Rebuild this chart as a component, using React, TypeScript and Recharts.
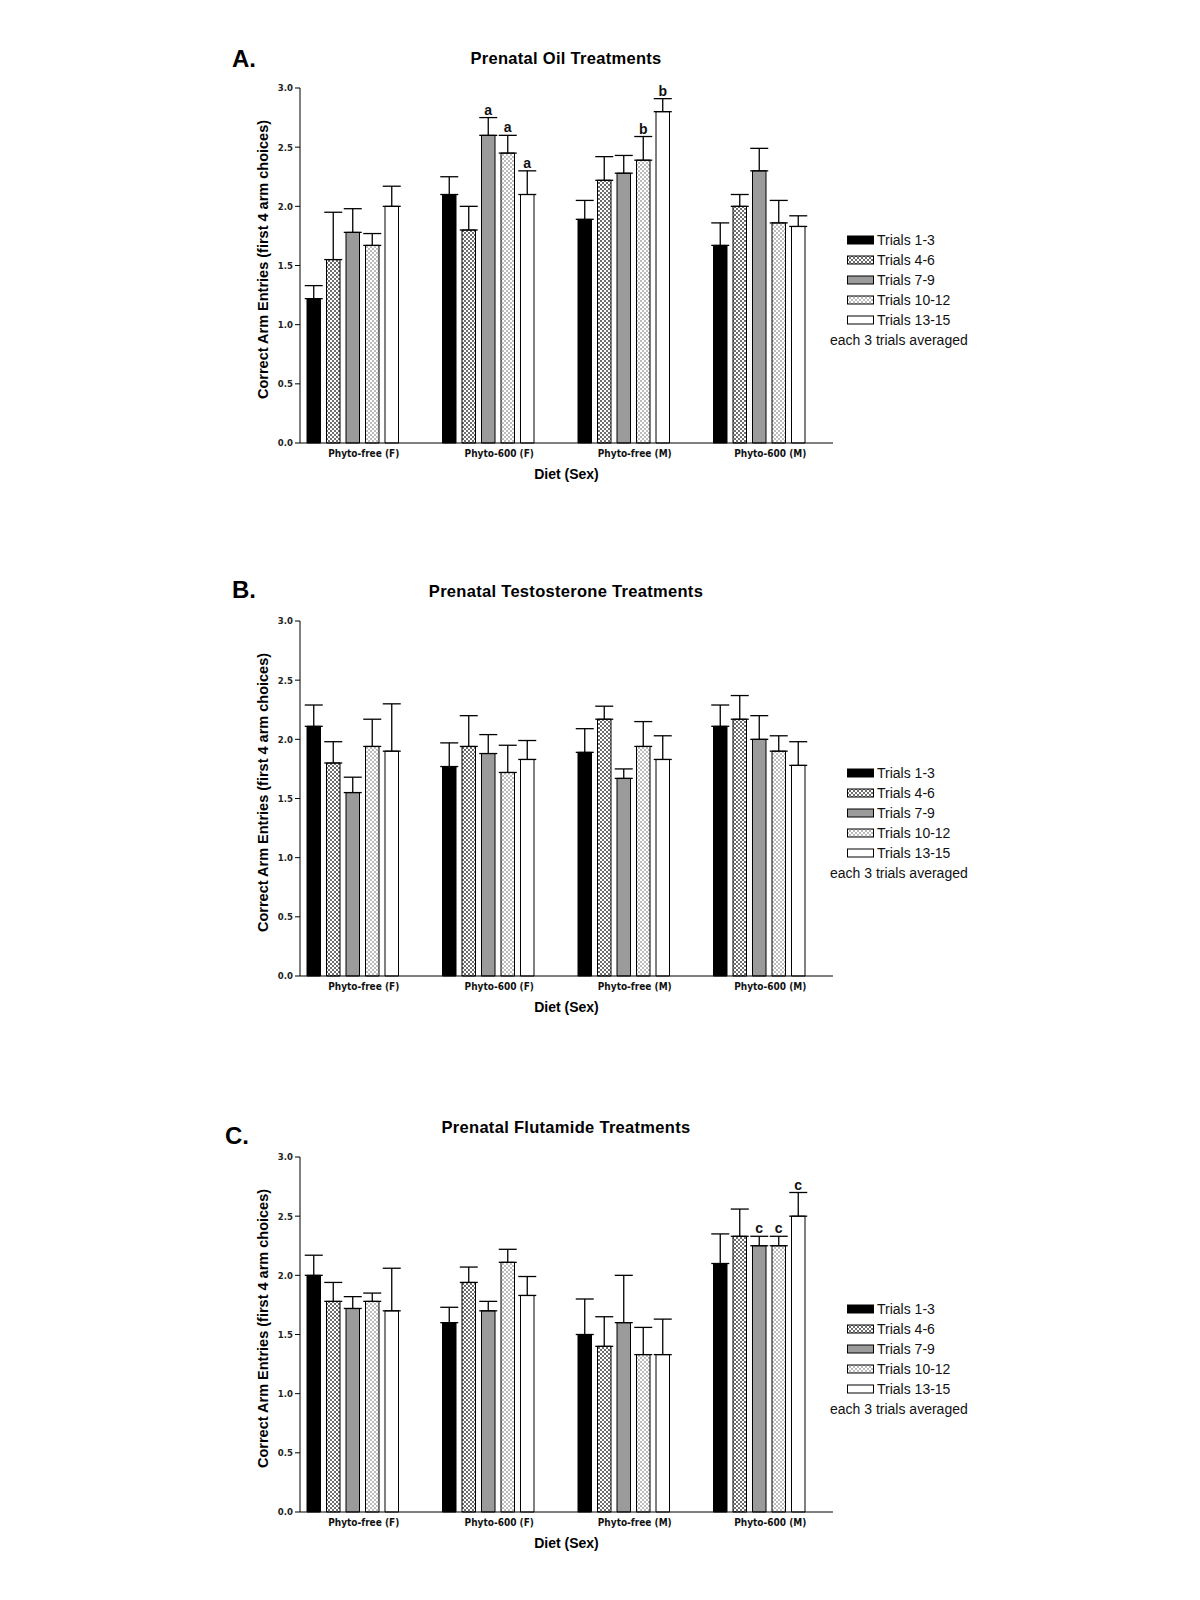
import React from 'react';
import { BarChart, Bar, XAxis, YAxis, ErrorBar, LabelList } from 'recharts';

const categories = ['Phyto-free (F)', 'Phyto-600 (F)', 'Phyto-free (M)', 'Phyto-600 (M)'];
const trialNames = ['Trials 1-3', 'Trials 4-6', 'Trials 7-9', 'Trials 10-12', 'Trials 13-15'];
const yTicks = [0, 0.5, 1, 1.5, 2, 2.5, 3];

// A. prenatal oil (one row per trial block, one value per diet/sex group)
const oilMeans = [
  [1.22, 2.1, 1.89, 1.67],
  [1.55, 1.8, 2.22, 2.0],
  [1.78, 2.6, 2.28, 2.3],
  [1.67, 2.45, 2.39, 1.86],
  [2.0, 2.1, 2.8, 1.83],
];
const oilErrors = [
  [0.11, 0.15, 0.16, 0.19],
  [0.4, 0.2, 0.2, 0.1],
  [0.2, 0.15, 0.15, 0.19],
  [0.1, 0.15, 0.2, 0.19],
  [0.17, 0.2, 0.11, 0.09],
];
const oilLetters = [
  ['', '', '', ''],
  ['', '', '', ''],
  ['', 'a', '', ''],
  ['', 'a', 'b', ''],
  ['', 'a', 'b', ''],
];

// B. prenatal testosterone
const testMeans = [
  [2.11, 1.77, 1.89, 2.11],
  [1.8, 1.94, 2.17, 2.17],
  [1.55, 1.88, 1.67, 2.0],
  [1.94, 1.72, 1.94, 1.9],
  [1.9, 1.83, 1.83, 1.78],
];
const testErrors = [
  [0.18, 0.2, 0.2, 0.18],
  [0.18, 0.26, 0.11, 0.2],
  [0.13, 0.16, 0.08, 0.2],
  [0.23, 0.23, 0.21, 0.13],
  [0.4, 0.16, 0.2, 0.2],
];
const testLetters = [
  ['', '', '', ''],
  ['', '', '', ''],
  ['', '', '', ''],
  ['', '', '', ''],
  ['', '', '', ''],
];

// C. prenatal flutamide
const flutMeans = [
  [2.0, 1.6, 1.5, 2.1],
  [1.78, 1.94, 1.4, 2.33],
  [1.72, 1.7, 1.6, 2.25],
  [1.78, 2.11, 1.33, 2.25],
  [1.7, 1.83, 1.33, 2.5],
];
const flutErrors = [
  [0.17, 0.13, 0.3, 0.25],
  [0.16, 0.13, 0.25, 0.23],
  [0.1, 0.08, 0.4, 0.08],
  [0.07, 0.11, 0.23, 0.08],
  [0.36, 0.16, 0.3, 0.2],
];
const flutLetters = [
  ['', '', '', ''],
  ['', '', '', ''],
  ['', '', '', 'c'],
  ['', '', '', 'c'],
  ['', '', '', 'c'],
];

const sans = "'Liberation Sans', Arial, sans-serif";
const narrow = "'Liberation Sans Narrow', 'DejaVu Sans Condensed', 'Liberation Sans', Arial, sans-serif";

const fillFor = (pid: string, k: number) =>
  ['#000', `url(#${pid}-dark)`, '#9b9b9b', `url(#${pid}-light)`, '#fff'][k];

function Checker({ id, color }: { id: string; color: string }) {
  return (
    <pattern id={id} width={4} height={4} patternUnits="userSpaceOnUse">
      <rect width={4} height={4} fill="#fff" />
      <rect x={0} y={0} width={2} height={2} fill={color} />
      <rect x={2} y={2} width={2} height={2} fill={color} />
    </pattern>
  );
}

const letterLabel = (means: number[], errs: number[]) => (props: any) => {
  const { x, y, width, height, value, index } = props;
  if (!value) return null;
  const perUnit = height / means[index];
  const top = y - errs[index] * perUnit;
  return (
    <text x={x + width / 2} y={top - 3} textAnchor="middle" fontFamily={sans} fontWeight="bold" fontSize={14} fill="#111">
      {value}
    </text>
  );
};

interface PanelProps {
  pid: string;
  letter: string;
  letterX: number;
  letterDy: number;
  title: string;
  plotTop: number;
  means: number[][];
  errors: number[][];
  letters: string[][];
}

function Panel({ pid, letter, letterX, letterDy, title, plotTop, means, errors, letters }: PanelProps) {
  const rows = categories.map((name, i) => {
    const row: Record<string, any> = { name };
    means.forEach((s, k) => {
      row['m' + k] = s[i];
      row['e' + k] = [0, errors[k][i]];
      row['l' + k] = letters[k][i];
    });
    return row;
  });

  return (
    <>
      <div style={{ position: 'absolute', left: letterX, top: plotTop + letterDy - 15, fontFamily: sans, fontWeight: 'bold', fontSize: 24, lineHeight: '30px' }}>
        {letter}
      </div>
      <div style={{ position: 'absolute', left: 366, width: 400, top: plotTop - 40, textAlign: 'center', fontFamily: sans, fontWeight: 'bold', fontSize: 16.5, letterSpacing: 0.3, lineHeight: '20px' }}>
        {title}
      </div>
      <div style={{ position: 'absolute', left: 0, top: plotTop - 40 }}>
        <BarChart width={860} height={445} data={rows} margin={{ top: 40, right: 27, left: 240, bottom: 5 }} barSize={13.5} barGap={6}>
          <defs>
            <Checker id={`${pid}-dark`} color="#6e6e6e" />
            <Checker id={`${pid}-light`} color="#bdbdbd" />
          </defs>
          <XAxis
            dataKey="name"
            tickLine={false}
            axisLine={{ stroke: '#000', strokeWidth: 1 }}
            padding={{ left: -15, right: 6 }}
            height={45}
            tick={{ fontFamily: narrow, fontWeight: 'bold', fontSize: 10, fill: '#111', dx: 11, dy: -1 }}
            label={{ value: 'Diet (Sex)', position: 'insideBottom', offset: 9, fontFamily: sans, fontWeight: 'bold', fontSize: 14, fill: '#000' }}
          />
          <YAxis
            domain={[0, 3]}
            ticks={yTicks}
            interval={0}
            width={60}
            tickSize={5}
            tickLine={{ stroke: '#000' }}
            axisLine={{ stroke: '#000', strokeWidth: 1 }}
            tickFormatter={(v: number) => v.toFixed(1)}
            tick={{ fontFamily: narrow, fontWeight: 'bold', fontSize: 9.5, fill: '#222' }}
            label={{
              value: 'Correct Arm Entries (first 4 arm choices)',
              angle: -90,
              position: 'insideLeft',
              offset: 23,
              dy: -6,
              style: { textAnchor: 'middle' },
              fontFamily: sans,
              fontWeight: 'bold',
              fontSize: 14.5,
              fill: '#000',
            }}
          />
          {trialNames.map((t, k) => (
            <Bar key={t} dataKey={'m' + k} name={t} fill={fillFor(pid, k)} stroke="#000" strokeWidth={1} isAnimationActive={false}>
              <ErrorBar dataKey={'e' + k} width={9} stroke="#000" strokeWidth={1.3} direction="y" isAnimationActive={false} />
              <LabelList dataKey={'l' + k} content={letterLabel(means[k], errors[k])} />
            </Bar>
          ))}
        </BarChart>
      </div>
      <div style={{ position: 'absolute', left: 830, top: plotTop + 142, fontFamily: sans, fontSize: 14, color: '#111' }}>
        {trialNames.map((t, k) => (
          <div key={t} style={{ height: 20, display: 'flex', alignItems: 'center', marginLeft: 17 }}>
            <svg width={27} height={10} style={{ marginRight: 3 }}>
              <defs>
                <Checker id={`${pid}-lg-dark`} color="#6e6e6e" />
                <Checker id={`${pid}-lg-light`} color="#bdbdbd" />
              </defs>
              <rect x={0.5} y={1} width={26} height={8} fill={['#000', `url(#${pid}-lg-dark)`, '#9b9b9b', `url(#${pid}-lg-light)`, '#fff'][k]} stroke="#000" strokeWidth={1} />
            </svg>
            <span>{t}</span>
          </div>
        ))}
        <div style={{ height: 20, lineHeight: '20px' }}>each 3 trials averaged</div>
      </div>
    </>
  );
}

export default function App() {
  return (
    <div style={{ position: 'absolute', left: 0, top: 0, width: 1200, height: 1600, background: '#fff' }}>
      <Panel pid="oil" letter="A." letterX={232} letterDy={-29} title="Prenatal Oil Treatments" plotTop={88} means={oilMeans} errors={oilErrors} letters={oilLetters} />
      <Panel pid="tes" letter="B." letterX={232} letterDy={-31} title="Prenatal Testosterone Treatments" plotTop={621} means={testMeans} errors={testErrors} letters={testLetters} />
      <Panel pid="flu" letter="C." letterX={225} letterDy={-21} title="Prenatal Flutamide Treatments" plotTop={1157} means={flutMeans} errors={flutErrors} letters={flutLetters} />
    </div>
  );
}
